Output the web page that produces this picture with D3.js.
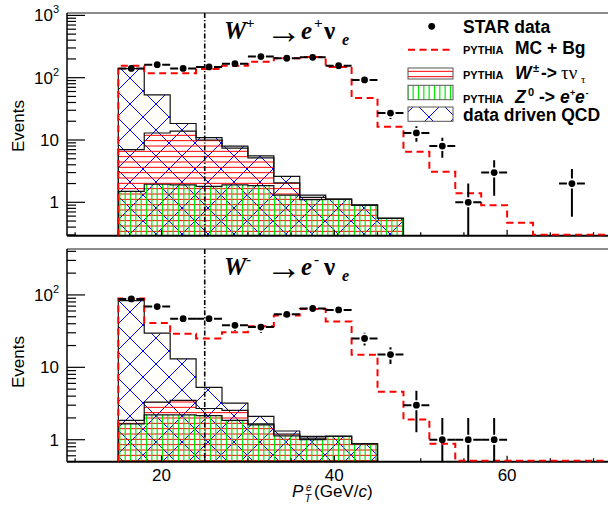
<!DOCTYPE html>
<html><head><meta charset="utf-8">
<script src="https://cdn.jsdelivr.net/npm/d3@7"></script>
<style>body{margin:0;background:#fff}svg{display:block}</style>
</head><body>
<script>
// ---------------- data ----------------
const ptEdges = [15,18,21,24,27,30,33,36,39,42,45,48,51,54,57,60,63,66,69,72];
const xTickLabels = [20,40,60];
const xMinorTicks = [10,15,25,30,35,45,50,55,65,70];

// W+ panel
const wplusData = [141,162,141,149,168,218,205,212,156,92,27,13,8,1,3,0,0,2,0];
const wplusMC   = [156,118,118,138,156,181,205,214,148,47,16.3,6.5,3.1,1.4,0.9,0.47,0,0,0];
const wplusZee  = [1.5,1.95,1.9,1.8,1.9,1.85,1.3,1.1,1.12,0.9,0.55];
const wplusTau  = [5.5,11,12,8.2,5.5,3.3,0.75,0.1,0,0,0];
const wplusQCD  = [133,40,4.5,0.9,0.6,0.4,0.55,0.1,0.01,0,0];

// W- panel
const wminusData = [88,69,47,47,38,36,54,65,62,25,15,3,1,1,1,0,0,0,0];
const wminusMC   = [89,41,29,25,30.6,37,52,64,43,14.9,4.6,1.9,0.88,0,0,0,0,0,0];
const wminusZee  = [1.65,2.2,2.2,2.15,1.85,1.6,1.13,1.0,1.11,0.88];
const wminusTau  = [0.2,1.1,1.3,0.55,0.7,0.05,0.07,0.05,0,0];
const wminusQCD  = [81.7,26.3,9.6,2.6,0.65,0.45,0.12,0.06,0,0];

const yTicksTop = [1,10,100,1000];
const yTicksBottom = [1,10,100];

// ---------------- drawing ----------------
const W = 608, H = 508;
const svg = d3.select("body").append("svg").attr("width", W).attr("height", H);
const defs = svg.append("defs");

const pq = defs.append("pattern").attr("id","hQCD").attr("patternUnits","userSpaceOnUse")
  .attr("width",26).attr("height",26);
pq.append("path").attr("d","M0,0L26,26M26,0L0,26M-2,2L2,-2M24,28L28,24M-2,24L2,28M24,-2L28,2")
  .attr("stroke","#0000ff").attr("stroke-width",1).attr("fill","none");
const pt = defs.append("pattern").attr("id","hTau").attr("patternUnits","userSpaceOnUse")
  .attr("width",10).attr("height",16);
pt.append("path").attr("d","M0,2H10M0,7.33H10M0,12.67H10")
  .attr("stroke","#ff0000").attr("stroke-width",1).attr("fill","none");
const pz = defs.append("pattern").attr("id","hZ").attr("patternUnits","userSpaceOnUse")
  .attr("width",16).attr("height",10);
pz.append("path").attr("d","M2.5,0V10M7.83,0V10M13.17,0V10")
  .attr("stroke","#00ee00").attr("stroke-width",1.2).attr("fill","none");

const x = d3.scaleLinear().domain([9.06, 71.56]).range([67, 607]);

const panels = [
  {data: wplusData, mc: wplusMC, z: wplusZee, tau: wplusTau, qcd: wplusQCD,
   yDomain:[0.291,1092], yRange:[235.7,13], yTicks: yTicksTop, sign:"+", id:"p1",
   titleY:39, labelY:126, xLabels:false},
  {data: wminusData, mc: wminusMC, z: wminusZee, tau: wminusTau, qcd: wminusQCD,
   yDomain:[0.497,431], yRange:[461.7,249], yTicks: yTicksBottom, sign:"-", id:"p2",
   titleY:275, labelY:362, xLabels:true}
];

const sans = "'Liberation Sans', Arial, Helvetica, sans-serif";
const serif = "'Liberation Serif', 'Times New Roman', serif";

panels.forEach(P => {
  const y = d3.scaleLog().domain(P.yDomain).range(P.yRange).clamp(true);
  const yb = P.yRange[0], yt = P.yRange[1];
  const left = x.range()[0], right = x.range()[1];

  defs.append("clipPath").attr("id","clip"+P.id).append("rect")
    .attr("x",left).attr("y",yt).attr("width",right-left+2).attr("height",yb-yt);
  const g = svg.append("g").attr("clip-path",`url(#clip${P.id})`);

  const yv = v => v > 0 ? y(v) : yb;
  function stepPath(vals) {
    let p = `M${x(ptEdges[0])},${yb}`;
    vals.forEach((v,i) => {
      const yy = yv(v);
      p += `L${x(ptEdges[i])},${yy}L${x(ptEdges[i+1])},${yy}`;
    });
    p += `L${x(ptEdges[vals.length])},${yb}`;
    return p;
  }
  const zLvl = P.z.slice();
  const tauLvl = P.z.map((v,i) => v + P.tau[i]);
  const totLvl = P.z.map((v,i) => v + P.tau[i] + P.qcd[i]);

  [[totLvl,"hQCD"],[tauLvl,"hTau"],[zLvl,"hZ"]].forEach(([vals,pat]) => {
    g.append("path").attr("d", stepPath(vals) + "Z")
      .attr("fill",`url(#${pat})`).attr("stroke","none");
  });
  [totLvl, tauLvl, zLvl].forEach(vals => {
    g.append("path").attr("d", stepPath(vals))
      .attr("fill","none").attr("stroke","#111").attr("stroke-width",1.2);
  });

  // axes
  const ax = svg.append("g");
  ax.append("line").attr("x1",left).attr("x2",W).attr("y1",yt).attr("y2",yt)
    .attr("stroke","#666").attr("stroke-width",1.6);
  ax.append("line").attr("x1",left).attr("x2",left).attr("y1",yt).attr("y2",yb)
    .attr("stroke","#000").attr("stroke-width",1.5);
  const [lo, hi] = P.yDomain;
  for (let e = Math.floor(Math.log10(lo)); e <= Math.ceil(Math.log10(hi)); e++) {
    for (let m = 1; m <= 9; m++) {
      const v = m * Math.pow(10, e);
      if (v < lo || v > hi) continue;
      const len = m === 1 ? 18 : 9;
      ax.append("line").attr("x1",left).attr("x2",left+len).attr("y1",y(v)).attr("y2",y(v))
        .attr("stroke","#000").attr("stroke-width",1.2);
    }
  }
  P.yTicks.forEach(v => {
    const t = ax.append("text").attr("x",59).attr("y",y(v)+6).attr("text-anchor","end")
      .attr("font-family",sans).attr("font-size",17).attr("fill","#000");
    if (v >= 100) {
      t.append("tspan").text("10");
      t.append("tspan").attr("font-size",11).attr("dy",-8).text(String(Math.round(Math.log10(v))));
    } else t.text(String(v));
  });
  xTickLabels.forEach(v => {
    ax.append("line").attr("x1",x(v)).attr("x2",x(v)).attr("y1",yb).attr("y2",yb-6)
      .attr("stroke","#000").attr("stroke-width",1.2);
    if (P.xLabels) ax.append("text").attr("x",x(v)).attr("y",481).attr("text-anchor","middle")
      .attr("font-family",sans).attr("font-size",17).text(String(v));
  });
  xMinorTicks.forEach(v => {
    ax.append("line").attr("x1",x(v)).attr("x2",x(v)).attr("y1",yb).attr("y2",yb-3.5)
      .attr("stroke","#000").attr("stroke-width",1.2);
  });
  ax.append("line").attr("x1",left).attr("x2",W).attr("y1",yb).attr("y2",yb)
    .attr("stroke","#000").attr("stroke-width",2);

  svg.append("text").attr("transform",`translate(23.5,${P.labelY}) rotate(-90)`)
    .attr("text-anchor","middle").attr("font-family",sans).attr("font-size",17).text("Events");

  svg.append("line").attr("x1",x(25)).attr("x2",x(25)).attr("y1",yt).attr("y2",yb)
    .attr("stroke","#000").attr("stroke-width",1.6).attr("stroke-dasharray","5,2,1.2,2");

  const g2 = svg.append("g").attr("clip-path",`url(#clip${P.id})`);
  let mp = `M${x(ptEdges[0])},${yb}`;
  P.mc.forEach((v,i) => {
    const yy = v > 0 ? y(v) : yb - 1;
    mp += `L${x(ptEdges[i])},${yy}L${x(ptEdges[i+1])},${yy}`;
  });
  g2.append("path").attr("d",mp).attr("fill","none").attr("stroke","#ff0000")
    .attr("stroke-width",2).attr("stroke-dasharray","7,4.5");

  const gap = 5, r = 3.4;
  P.data.forEach((n,i) => {
    if (n <= 0) return;
    const cx = x((ptEdges[i]+ptEdges[i+1])/2), cy = y(n);
    const xl = x(ptEdges[i]), xr = x(ptEdges[i+1]);
    const err = Math.sqrt(n);
    const yu = y(n + err), yl = (n - err) > 0 ? y(n - err) : yb;
    const d = [];
    d.push(`M${xl},${cy}H${cx-gap}M${cx+gap},${cy}H${xr}`);
    if (cy - yu > gap) d.push(`M${cx},${cy-gap}V${yu}`);
    if (yl - cy > gap) d.push(`M${cx},${cy+gap}V${yl}`);
    g2.append("path").attr("d",d.join("")).attr("stroke","#000").attr("stroke-width",2).attr("fill","none");
    g2.append("circle").attr("cx",cx).attr("cy",cy).attr("r",r).attr("fill","#000");
  });

  const tt = svg.append("text").attr("y",P.titleY).attr("font-family",serif)
    .attr("font-size",25).attr("font-weight","bold").attr("fill","#000");
  tt.append("tspan").attr("x",224).attr("font-style","italic").text("W");
  tt.append("tspan").attr("x",246).attr("dy",-11).attr("font-size",15).text(P.sign === "+" ? "+" : "-");
  tt.append("tspan").attr("x",266).attr("dy",15).attr("font-weight","normal").attr("font-size",36).text("\u2192");
  tt.append("tspan").attr("x",301).attr("dy",-4).attr("font-style","italic").text("e");
  tt.append("tspan").attr("x",314).attr("dy",-11).attr("font-size",15).text(P.sign === "+" ? "+" : "-");
  tt.append("tspan").attr("x",324).attr("dy",11).text("\u03BD");
  tt.append("tspan").attr("x",342).attr("dy",6).attr("font-size",16).attr("font-style","italic").text("e");
});

const xt = svg.append("text").attr("y",497).attr("font-family",sans).attr("font-size",17);
xt.append("tspan").attr("x",292).attr("font-style","italic").text("P");
xt.append("tspan").attr("x",306).attr("dy",-6).attr("font-size",10).attr("font-style","italic").text("e");
xt.append("tspan").attr("x",304.5).attr("dy",11).attr("font-size",11).attr("font-style","italic").text("T");
xt.append("tspan").attr("x",314).attr("dy",-5).text("(GeV/");
xt.append("tspan").attr("font-style","italic").text("c");
xt.append("tspan").text(")");

// legend
const lg = svg.append("g").attr("font-family",sans).attr("font-weight","bold").attr("fill","#000");
lg.append("circle").attr("cx",431.7).attr("cy",26.3).attr("r",3.4).attr("fill","#000");
lg.append("text").attr("x",463).attr("y",33).attr("font-size",17.5).text("STAR data");
lg.append("line").attr("x1",408).attr("x2",453).attr("y1",49.7).attr("y2",49.7)
  .attr("stroke","#ff0000").attr("stroke-width",2).attr("stroke-dasharray","7,4.5");
const l2 = lg.append("text").attr("y",53.7).attr("font-size",17.5);
l2.append("tspan").attr("x",463).attr("font-size",11).text("PYTHIA");
l2.append("tspan").attr("x",515).text("MC + Bg");

lg.append("rect").attr("x",408).attr("y",68).attr("width",45).attr("height",11)
  .attr("fill","url(#hTau)").attr("stroke","#555").attr("stroke-width",1);
const l3 = lg.append("text").attr("y",78.5).attr("font-size",17.5);
l3.append("tspan").attr("x",463).attr("font-size",11).text("PYTHIA");
l3.append("tspan").attr("x",515).attr("font-style","italic").text("W");
l3.append("tspan").attr("x",533).attr("dy",-7).attr("font-size",11).text("\u00B1");
l3.append("tspan").attr("x",541).attr("dy",7).text("->");
l3.append("tspan").attr("x",561).attr("font-family",serif).attr("font-weight","normal").attr("font-size",19).text("\u03C4\u03BD");
l3.append("tspan").attr("x",581).attr("dy",4).attr("font-family",serif).attr("font-weight","normal").attr("font-size",11).text("\u03C4");

lg.append("rect").attr("x",408).attr("y",85.3).attr("width",45).attr("height",14.4)
  .attr("fill","url(#hZ)").attr("stroke","#555").attr("stroke-width",1);
const l4 = lg.append("text").attr("y",102.5).attr("font-size",17.5);
l4.append("tspan").attr("x",463).attr("font-size",11).text("PYTHIA");
l4.append("tspan").attr("x",515).attr("font-style","italic").text("Z");
l4.append("tspan").attr("x",528).attr("dy",-7).attr("font-size",11).text("0");
l4.append("tspan").attr("x",539).attr("dy",7).text("->");
l4.append("tspan").attr("x",560).attr("font-style","italic").text("e");
l4.append("tspan").attr("x",570).attr("dy",-7).attr("font-size",9).text("+");
l4.append("tspan").attr("x",575).attr("dy",7).attr("font-style","italic").text("e");
l4.append("tspan").attr("x",585.5).attr("dy",-7).attr("font-size",9).text("-");

lg.append("rect").attr("x",408).attr("y",107).attr("width",45).attr("height",14.3)
  .attr("fill","url(#hQCD)").attr("stroke","#555").attr("stroke-width",1);
lg.append("text").attr("x",463).attr("y",121.3).attr("font-size",17.5).text("data driven QCD");
</script>
</body></html>
